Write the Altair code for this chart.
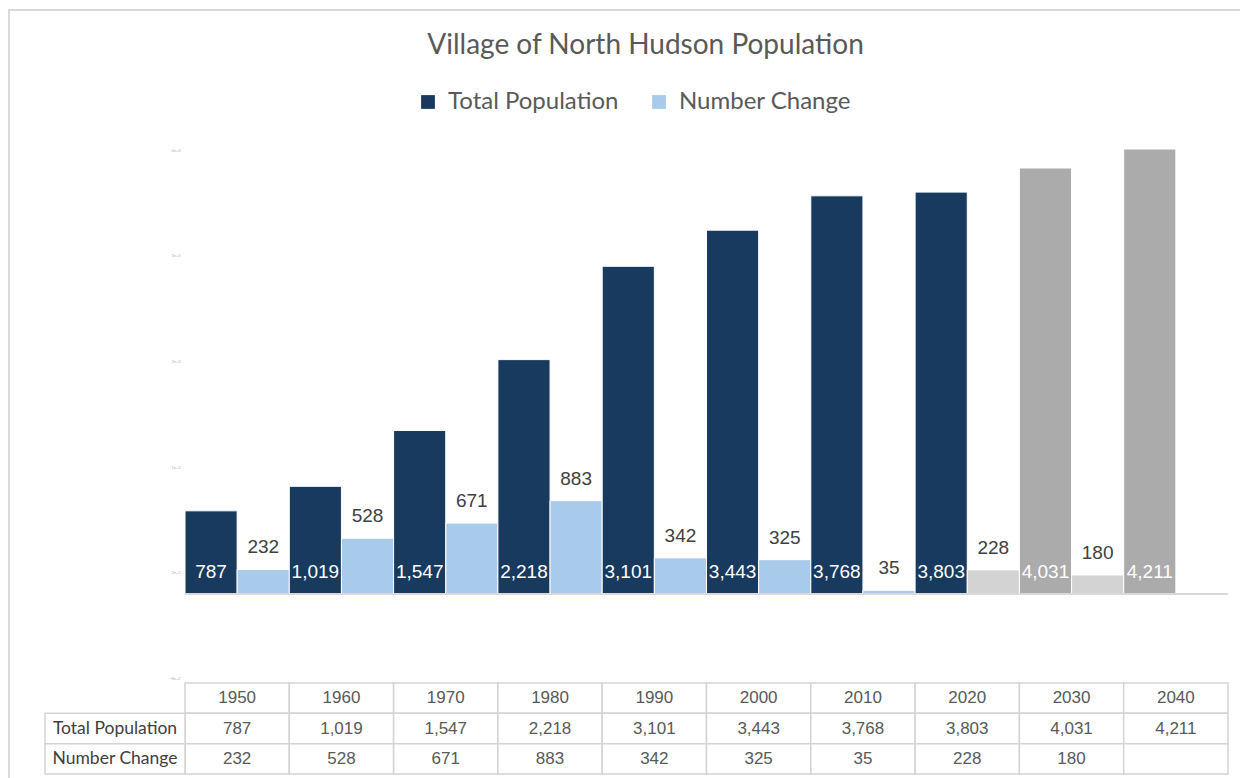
import altair as alt
import pandas as pd

# ---------------- data ----------------
years = ["1950", "1960", "1970", "1980", "1990", "2000", "2010", "2020", "2030", "2040"]
total_population = [787, 1019, 1547, 2218, 3101, 3443, 3768, 3803, 4031, 4211]
number_change = [232, 528, 671, 883, 342, 325, 35, 228, 180, None]
total_projected = [False, False, False, False, False, False, False, False, True, True]
change_projected = [False, False, False, False, False, False, False, True, True, False]

series = ["Total Population", "Number Change"]
color_keys = ["Total Population", "Number Change", "Total Population (projected)", "Number Change (projected)"]
color_range = ["#173A5E", "#A8CBEB", "#ABABAB", "#D3D3D3"]
row_names = ["Year", "Total Population", "Number Change"]
axis_ticks = [-800, 200, 1200, 2200, 3200, 4200]

# ---------------- tables ----------------
bar_rows = []
for i, y in enumerate(years):
    bar_rows.append(dict(year=y, series=series[0], value=total_population[i],
                         key=color_keys[2] if total_projected[i] else color_keys[0],
                         label=f"{total_population[i]:,}"))
    if number_change[i] is not None:
        bar_rows.append(dict(year=y, series=series[1], value=number_change[i],
                             key=color_keys[3] if change_projected[i] else color_keys[1],
                             label=f"{number_change[i]:,}"))
bars_df = pd.DataFrame(bar_rows)

table_rows = []
for i, y in enumerate(years):
    table_rows.append(dict(year=y, row=row_names[0], text=y))
    table_rows.append(dict(year=y, row=row_names[1], text=f"{total_population[i]:,}"))
    table_rows.append(dict(year=y, row=row_names[2],
                           text="" if number_change[i] is None else f"{number_change[i]:,}"))
table_df = pd.DataFrame(table_rows)
label_df = pd.DataFrame({"row": row_names[1:]})

# ---------------- geometry ----------------
W, H = 1043, 646
base_px = 464.0
k = 445.0 / 4211.0
ydom = [-1000, 4500]
yrange = [base_px - ydom[0] * k, base_px - ydom[1] * k]

xscale = alt.Scale(domain=years, paddingInner=0, paddingOuter=0)
xoff_scale = alt.Scale(domain=series, paddingInner=0, paddingOuter=0)
yscale = alt.Scale(domain=ydom, range=yrange, zero=False, nice=False)
row_scale = alt.Scale(domain=row_names, range=[553, 644], paddingInner=0, paddingOuter=0)
yaxis = alt.Axis(values=axis_ticks, format=",", labelFontSize=4, labelColor="#b0b0b0",
                 ticks=False, domain=False, grid=False, labelPadding=5, title=None)

X = alt.X("year:N", scale=xscale, axis=None)
XO = alt.XOffset("series:N", scale=xoff_scale)

bars = alt.Chart(bars_df).mark_bar(stroke="white", strokeWidth=1).encode(
    x=X, xOffset=XO,
    y=alt.Y("value:Q", scale=yscale, axis=yaxis),
    y2=alt.datum(0),
    color=alt.Color("key:N", scale=alt.Scale(domain=color_keys, range=color_range),
                    legend=alt.Legend(values=series, title=None, orient="none",
                                      legendX=231, legendY=-40, direction="horizontal",
                                      symbolType="square", symbolSize=190, symbolStrokeWidth=0,
                                      labelFont="Lato", labelFontSize=24, labelColor="#595959",
                                      labelLimit=400, labelOffset=8, columnPadding=28)),
)

baseline = alt.Chart(bars_df).mark_rule(color="#D9D9D9", strokeWidth=2).encode(
    y=alt.Y("zero:Q", scale=yscale, axis=yaxis)
).transform_calculate(zero="0")

total_text = alt.Chart(bars_df).transform_filter(alt.datum.series == series[0]).mark_text(
    font="Liberation Sans", fontSize=19, color="white", baseline="bottom", dy=-12
).encode(x=X, xOffset=XO, y=alt.Y("zero:Q", scale=yscale, axis=yaxis), text="label:N"
).transform_calculate(zero="0")

change_text = alt.Chart(bars_df).transform_filter(alt.datum.series == series[1]).mark_text(
    font="Liberation Sans", fontSize=19, color="#404040", baseline="bottom", dy=-12
).encode(x=X, xOffset=XO, y=alt.Y("value:Q", scale=yscale, axis=yaxis), text="label:N")

cells = alt.Chart(table_df).mark_rect(fill="white", stroke="#D4D4D4", strokeWidth=1.5).encode(
    x=X, y=alt.Y("row:N", scale=row_scale, axis=None)
)
cell_text = alt.Chart(table_df).mark_text(
    font="Liberation Sans", fontSize=17, color="#595959"
).encode(x=X, y=alt.Y("row:N", scale=row_scale, axis=None), text="text:N")

label_cells = alt.Chart(label_df).mark_rect(fill="white", stroke="#D4D4D4", strokeWidth=1.5).encode(
    x=alt.value(-140), x2=alt.value(0), y=alt.Y("row:N", scale=row_scale, axis=None)
)
label_text = alt.Chart(label_df).mark_text(font="Lato", fontSize=17.5, color="#404040").encode(
    x=alt.value(-70), y=alt.Y("row:N", scale=row_scale, axis=None), text="row:N"
)

frame_top = alt.Chart(label_df).mark_rule(color="#D9D9D9", strokeWidth=2).encode(
    x=alt.value(-177), x2=alt.value(W + 20), y=alt.value(-120)
)
frame_left = alt.Chart(label_df).mark_rule(color="#D9D9D9", strokeWidth=1.5).encode(
    x=alt.value(-176), y=alt.value(-120), y2=alt.value(H + 10)
)

bar_layer = alt.layer(bars, baseline, total_text, change_text)
table_layer = alt.layer(cells, cell_text, label_cells, label_text)

chart = alt.layer(frame_top, frame_left, bar_layer, table_layer).resolve_scale(y="independent").properties(
    width=W, height=H,
    autosize=alt.AutoSizeParams(type="none"),
    padding={"left": 177, "top": 122, "right": 12, "bottom": 2},
    title=alt.TitleParams("Village of North Hudson Population", font="Lato", fontSize=28,
                          fontWeight="normal", color="#595959", anchor="middle",
                          frame="group", dx=-61, offset=-51),
).configure_view(stroke=None)

chart.save("out.html", embed_options={"renderer": "svg", "actions": False})
